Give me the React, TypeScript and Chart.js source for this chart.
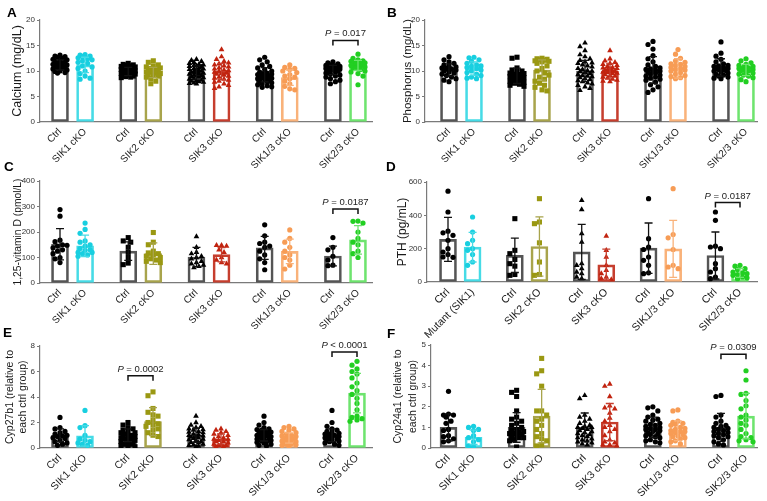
import React, { useEffect, useRef } from "react";
import { Chart, registerables } from "chart.js";

Chart.register(...registerables);

const FONT = "'Liberation Sans', Arial, Helvetica, sans-serif";

// ---------- shared categories ----------
const LABELS = ["Ctrl", "SIK1 cKO", "Ctrl", "SIK2 cKO", "Ctrl", "SIK3 cKO", "Ctrl", "SIK1/3 cKO", "Ctrl", "SIK2/3 cKO"];
const LABELS_D = ["Ctrl", "Mutant (SIK1)", "Ctrl", "SIK2 cKO", "Ctrl", "SIK3 cKO", "Ctrl", "SIK1/3 cKO", "Ctrl", "SIK2/3 cKO"];

// ---------- Panel A: Calcium (mg/dL) ----------
const A_MEANS = [11.2, 11.2, 9.9, 9.7, 9.7, 9.9, 9.25, 8.7, 10.2, 11.1];
const A_SDS = [1.0, 1.5, 0.8, 1.0, 1.3, 1.6, 1.4, 1.5, 0.9, 1.0];
const A_CTRL1 = [13.1, 12.9, 12.8, 12.7, 12.5, 12.3, 12.2, 12.0, 11.9, 11.8, 11.6, 11.5, 11.3, 11.2, 11.0, 10.9, 10.8, 10.7, 10.5, 10.4, 10.2, 10.0, 9.9, 9.7, 9.6];
const A_SIK1 = [13.2, 13.1, 12.9, 12.8, 12.6, 12.4, 12.2, 12.0, 11.7, 11.5, 11.0, 10.8, 10.5, 10.0, 9.5, 9.0, 8.6, 8.4];
const A_CTRL2 = [11.5, 11.3, 11.2, 11.1, 11.0, 10.9, 10.8, 10.7, 10.6, 10.5, 10.4, 10.3, 10.2, 10.1, 10.0, 9.9, 9.8, 9.7, 9.6, 9.5, 9.4, 9.3, 9.2, 9.1, 9.0, 8.9, 8.8, 8.7, 10.4, 9.9];
const A_SIK2 = [12.0, 11.7, 11.2, 11.0, 10.8, 10.6, 10.5, 10.4, 10.3, 10.2, 10.0, 9.9, 9.8, 9.6, 9.5, 9.3, 9.1, 9.0, 8.8, 8.5, 8.0, 7.5];
const A_CTRL3 = [12.3, 12.1, 11.9, 11.7, 11.5, 11.3, 11.2, 11.0, 10.9, 10.8, 10.6, 10.5, 10.4, 10.2, 10.1, 10.0, 9.9, 9.8, 9.6, 9.5, 9.4, 9.2, 9.1, 9.0, 8.8, 8.7, 8.5, 8.4, 8.2, 8.1, 8.0, 7.9, 7.8, 7.7, 7.6, 7.5, 10.3, 9.7, 8.9, 11.1];
const A_SIK3 = [14.2, 12.8, 12.3, 11.9, 11.6, 11.4, 11.2, 11.0, 10.8, 10.6, 10.4, 10.2, 10.0, 9.8, 9.6, 9.4, 9.2, 9.0, 8.8, 8.6, 8.4, 8.2, 8.0, 7.8, 7.5, 7.2, 6.9, 6.6, 10.1, 9.5];
const A_CTRL4 = [12.7, 12.2, 11.8, 11.2, 10.9, 10.6, 10.3, 10.0, 9.8, 9.6, 9.4, 9.3, 9.1, 9.0, 8.9, 8.7, 8.6, 8.5, 8.3, 8.2, 8.0, 7.9, 7.7, 7.5, 7.3, 7.1, 6.9, 6.8, 9.5, 8.8];
const A_SIK13 = [11.2, 10.7, 10.5, 10.3, 10.0, 9.7, 9.3, 9.0, 8.8, 8.5, 8.0, 7.5, 7.0, 6.5, 6.3];
const A_CTRL5 = [11.8, 11.6, 11.4, 11.2, 11.1, 11.0, 10.9, 10.8, 10.7, 10.6, 10.5, 10.4, 10.3, 10.2, 10.1, 10.0, 9.8, 9.6, 9.4, 9.2, 9.0, 8.8, 8.5, 8.2, 7.9, 7.5, 10.5, 10.8];
const A_SIK23 = [13.3, 12.5, 12.2, 12.0, 11.9, 11.8, 11.7, 11.6, 11.5, 11.4, 11.3, 11.2, 11.1, 11.0, 10.9, 10.8, 10.6, 10.5, 10.3, 10.0, 9.8, 9.5, 9.0, 7.3];

// ---------- Panel B: Phosphorus (mg/dL) ----------
const B_MEANS = [10.2, 10.5, 9.05, 10.2, 10.0, 10.0, 10.2, 10.5, 10.7, 10.2];
const B_SDS = [1.2, 1.3, 1.5, 2.0, 2.1, 1.4, 2.6, 1.9, 1.7, 1.1];
const B_CTRL1 = [12.8, 12.2, 11.8, 11.5, 11.2, 11.0, 10.8, 10.6, 10.4, 10.2, 10.0, 9.8, 9.6, 9.4, 9.1, 8.8, 8.5, 8.2, 7.9, 10.5];
const B_SIK1 = [12.7, 12.6, 12.2, 11.9, 11.5, 11.2, 11.0, 10.7, 10.5, 10.2, 10.0, 9.7, 9.4, 9.1, 8.8, 8.6, 8.5, 10.9];
const B_CTRL2 = [12.7, 12.5, 10.6, 10.2, 10.0, 9.8, 9.6, 9.4, 9.3, 9.2, 9.1, 9.0, 8.9, 8.8, 8.7, 8.6, 8.5, 8.4, 8.3, 8.2, 8.0, 7.8, 7.6, 7.4, 7.2, 7.0, 8.9, 9.5];
const B_SIK2 = [12.5, 12.4, 12.3, 12.2, 12.1, 12.0, 11.8, 11.5, 11.0, 10.5, 10.0, 9.6, 9.2, 8.8, 8.4, 8.0, 7.6, 7.2, 6.8, 6.3, 6.1, 11.9];
const B_CTRL3 = [15.5, 14.8, 14.0, 13.2, 12.8, 12.4, 12.1, 11.8, 11.5, 11.2, 11.0, 10.8, 10.5, 10.3, 10.1, 9.9, 9.7, 9.5, 9.3, 9.1, 8.9, 8.7, 8.5, 8.3, 8.1, 7.9, 7.7, 7.5, 7.2, 6.9, 6.6, 6.2, 10.0, 9.0, 11.6];
const B_SIK3 = [14.0, 12.4, 12.0, 11.7, 11.5, 11.3, 11.1, 10.9, 10.7, 10.6, 10.5, 10.4, 10.2, 10.1, 10.0, 9.9, 9.8, 9.6, 9.5, 9.3, 9.1, 9.0, 8.8, 8.6, 8.4, 8.2, 8.0, 7.9, 10.3, 9.7];
const B_CTRL4 = [15.8, 15.2, 14.3, 13.0, 12.4, 11.8, 11.2, 10.9, 10.6, 10.4, 10.3, 10.2, 10.0, 9.8, 9.6, 9.4, 9.2, 9.0, 8.8, 8.6, 8.4, 8.2, 7.8, 7.3, 6.9, 6.3, 5.8, 10.1];
const B_SIK13 = [14.2, 13.3, 12.5, 12.0, 11.7, 11.4, 11.1, 10.9, 10.7, 10.5, 10.3, 10.0, 9.7, 9.4, 9.1, 8.9, 8.7, 8.5, 10.2, 11.3];
const B_CTRL5 = [15.7, 13.5, 12.9, 12.3, 11.8, 11.4, 11.1, 10.9, 10.7, 10.5, 10.4, 10.3, 10.2, 10.1, 10.0, 9.8, 9.6, 9.4, 9.2, 9.0, 8.8, 8.6, 8.5, 10.6, 11.0];
const B_SIK23 = [12.4, 12.0, 11.6, 11.3, 11.1, 10.9, 10.7, 10.5, 10.4, 10.3, 10.2, 10.1, 10.0, 9.8, 9.6, 9.4, 9.2, 9.0, 8.7, 8.3, 7.9, 10.6];

// ---------- Panel C: 1,25-vitamin D (pmol/L) ----------
const C_MEANS = [152, 146, 125, 115, 102, 111, 138, 124, 106, 169];
const C_SDS = [61, 42, 36, 42, 38, 28, 45, 48, 39, 56];
const C_CTRL1 = [288, 262, 168, 162, 150, 148, 145, 138, 130, 125, 115, 100, 95, 80];
const C_SIK1 = [235, 210, 195, 165, 160, 150, 145, 135, 130, 128, 120, 120, 115, 110, 105];
const C_CTRL2 = [178, 165, 160, 140, 120, 100, 78, 72];
const C_SIK2 = [198, 160, 150, 125, 118, 115, 110, 105, 100, 95, 90, 85, 80];
const C_CTRL3 = [182, 140, 120, 115, 105, 100, 95, 85, 80, 75, 70, 65, 60];
const C_SIK3 = [148, 148, 145, 130, 120, 100, 90, 80, 75];
const C_CTRL4 = [228, 185, 160, 155, 145, 140, 125, 110, 95, 80, 52];
const C_SIK13 = [208, 175, 160, 140, 125, 110, 100, 90, 70, 55];
const C_CTRL5 = [178, 140, 130, 105, 90, 70, 68];
const C_SIK23 = [243, 242, 235, 200, 175, 160, 150, 125, 115, 100];

// ---------- Panel D: PTH (pg/mL) ----------
const D_MEANS = [256, 209, 160, 213, 181, 103, 203, 199, 159, 54];
const D_SDS = [132, 89, 103, 178, 165, 94, 151, 171, 141, 26];
const D_CTRL1 = [545, 420, 305, 295, 280, 250, 200, 180, 165, 150, 148];
const D_SIK1 = [390, 300, 250, 230, 200, 190, 165, 120, 100];
const D_CTRL2 = [380, 190, 170, 135, 110, 95, 45, 40];
const D_SIK2 = [500, 360, 350, 235, 120, 45, 40];
const D_CTRL3 = [490, 435, 290, 240, 110, 100, 80, 60, 50, 30, 20];
const D_SIK3 = [275, 190, 150, 100, 70, 50, 30, 20, 15];
const D_CTRL4 = [500, 260, 210, 195, 150, 130, 100, 55, 50];
const D_SIK13 = [560, 285, 265, 195, 100, 90, 80];
const D_CTRL5 = [420, 370, 215, 210, 200, 110, 80, 60, 30, 20];
const D_SIK23 = [100, 95, 80, 75, 60, 55, 50, 45, 40, 30, 25, 20];

// ---------- Panel E: Cyp27b1 ----------
const E_MEANS = [1.0, 0.95, 1.0, 2.07, 1.0, 0.7, 1.0, 0.78, 1.0, 4.31];
const E_SDS = [0.5, 0.8, 0.5, 1.1, 0.55, 0.4, 0.45, 0.4, 0.5, 1.55];
const E_CTRL1 = [2.4, 1.6, 1.5, 1.3, 1.2, 1.1, 1.0, 0.95, 0.9, 0.8, 0.75, 0.6, 0.5, 0.4, 0.3, 0.2];
const E_SIK1 = [2.95, 1.75, 1.6, 1.0, 0.7, 0.6, 0.5, 0.4, 0.3, 0.2];
const E_CTRL2 = [2.0, 1.8, 1.6, 1.5, 1.4, 1.3, 1.2, 1.2, 1.1, 1.0, 1.0, 0.9, 0.9, 0.8, 0.7, 0.7, 0.6, 0.5, 0.5, 0.4, 0.3, 0.3, 0.2, 0.1, 0.1];
const E_SIK2 = [4.4, 4.1, 3.1, 2.8, 2.6, 2.5, 2.2, 2.0, 1.9, 1.8, 1.7, 1.5, 1.4, 1.2, 1.0, 0.9];
const E_CTRL3 = [2.5, 2.0, 1.8, 1.7, 1.6, 1.5, 1.45, 1.4, 1.3, 1.25, 1.2, 1.1, 1.05, 1.0, 0.95, 0.9, 0.85, 0.8, 0.75, 0.7, 0.65, 0.6, 0.5, 0.45, 0.4, 0.3, 0.25, 0.2, 0.15, 0.1];
const E_SIK3 = [1.5, 1.4, 1.3, 1.2, 1.1, 1.0, 0.9, 0.8, 0.7, 0.7, 0.6, 0.5, 0.5, 0.4, 0.3, 0.3, 0.2, 0.2, 0.1, 0.1];
const E_CTRL4 = [2.5, 2.0, 1.8, 1.6, 1.5, 1.45, 1.4, 1.3, 1.25, 1.2, 1.15, 1.1, 1.05, 1.0, 0.95, 0.9, 0.9, 0.85, 0.8, 0.75, 0.7, 0.65, 0.6, 0.55, 0.5, 0.45, 0.4, 0.3, 0.2, 0.15];
const E_SIK13 = [1.7, 1.6, 1.5, 1.4, 1.3, 1.2, 1.1, 1.0, 0.95, 0.9, 0.85, 0.8, 0.75, 0.7, 0.65, 0.6, 0.55, 0.5, 0.45, 0.4, 0.35, 0.3, 0.25, 0.2, 0.1];
const E_CTRL5 = [2.95, 2.0, 1.7, 1.5, 1.4, 1.3, 1.2, 1.15, 1.1, 1.05, 1.0, 0.95, 0.9, 0.85, 0.8, 0.75, 0.7, 0.65, 0.6, 0.55, 0.5, 0.4, 0.3, 0.2];
const E_SIK23 = [6.8, 6.5, 6.2, 6.0, 5.8, 5.5, 5.1, 4.8, 4.5, 4.2, 3.9, 3.5, 3.0, 2.5, 2.4, 2.3, 2.2, 2.1];

// ---------- Panel F: Cyp24a1 ----------
const F_MEANS = [1.0, 0.52, 1.0, 1.55, 1.0, 1.26, 1.0, 0.84, 1.0, 1.55];
const F_SDS = [0.66, 0.35, 0.72, 1.3, 0.7, 0.9, 0.5, 0.48, 0.68, 1.1];
const F_CTRL1 = [2.75, 1.65, 1.6, 1.6, 1.5, 1.3, 1.2, 0.9, 0.85, 0.6, 0.55, 0.45, 0.35, 0.3];
const F_SIK1 = [1.05, 1.0, 0.9, 0.85, 0.6, 0.5, 0.4, 0.3, 0.1, 0.05];
const F_CTRL2 = [2.8, 2.7, 2.5, 1.8, 1.5, 1.4, 1.3, 1.2, 1.1, 1.0, 0.9, 0.85, 0.8, 0.75, 0.7, 0.7, 0.65, 0.6, 0.55, 0.5, 0.5, 0.4, 0.35, 0.05];
const F_SIK2 = [4.35, 3.75, 3.6, 3.0, 1.8, 1.8, 1.6, 1.4, 1.3, 1.1, 0.9, 0.7, 0.55, 0.45, 0.35, 0.15, 0.1];
const F_CTRL3 = [2.55, 2.4, 1.6, 1.5, 1.4, 1.3, 1.2, 1.1, 1.05, 1.0, 1.0, 0.95, 0.9, 0.85, 0.8, 0.75, 0.7, 0.65, 0.6, 0.55, 0.5, 0.45, 0.4, 0.35, 0.3, 0.25, 0.2, 0.15];
const F_SIK3 = [3.1, 3.0, 2.5, 2.05, 1.95, 1.9, 1.7, 1.45, 1.3, 1.1, 1.0, 0.9, 0.8, 0.6, 0.4, 0.3, 0.25, 0.15, 0.15, 0.1];
const F_CTRL4 = [2.0, 1.95, 1.8, 1.6, 1.5, 1.4, 1.35, 1.3, 1.2, 1.15, 1.1, 1.05, 1.0, 0.95, 0.9, 0.9, 0.85, 0.8, 0.75, 0.7, 0.65, 0.6, 0.55, 0.5, 0.4, 0.35, 0.3, 0.25];
const F_SIK13 = [1.85, 1.8, 1.3, 1.25, 1.2, 1.15, 1.1, 1.0, 0.95, 0.9, 0.85, 0.8, 0.8, 0.75, 0.7, 0.65, 0.6, 0.55, 0.5, 0.45, 0.35, 0.3, 0.2];
const F_CTRL5 = [2.55, 2.5, 1.6, 1.5, 1.3, 1.2, 1.1, 1.05, 1.0, 0.95, 0.9, 0.85, 0.8, 0.75, 0.7, 0.65, 0.6, 0.55, 0.5, 0.4, 0.3, 0.2, 0.15];
const F_SIK23 = [3.75, 3.3, 2.65, 2.6, 2.3, 2.05, 1.9, 1.6, 1.5, 1.35, 1.2, 1.1, 0.9, 0.7, 0.55, 0.5, 0.4, 0.35, 0.3];

// ---------- styling ----------
const KO_POINT = ["#18cfe0", "#9a9812", "#c1230f", "#f79c55", "#22cf22"];
const KO_BAR = ["#46dbe6", "#a8a44c", "#c63e2e", "#f9b27a", "#6ee46e"];
const CTRL_BAR = "#555555";
const MARKERS = ["circle", "circle", "rect", "rect", "triangle", "triangle", "circle", "circle", "circle", "circle"];
const GROUP_STEP = 2.72;
const X_POS = LABELS.map((_, i) => Math.floor(i / 2) * GROUP_STEP + (i % 2));

type Bracket = { from: number; to: number; level: number; text: string };
type Spec = {
  id: string;
  letter: string;
  letterPos: [number, number];
  box: [number, number, number, number];
  plot: [number, number, number, number];
  centers: [number, number];
  yMax: number;
  yStep: number;
  title: string | string[];
  titleSize: number;
  titleLine: number;
  titleCenter: number;
  labels: string[];
  labelSize: number;
  means: number[];
  sds: number[];
  points: number[][];
  brackets: Bracket[];
};

const SPECS: Spec[] = [
  {
    id: "A", letter: "A", letterPos: [7, 6], box: [0, 0, 384, 168], plot: [40, 20, 372, 122], centers: [20, 14],
    yMax: 20, yStep: 5, title: "Calcium (mg/dL)", titleSize: 12.5, titleLine: 15, titleCenter: 17.5,
    labels: LABELS, labelSize: 10, means: A_MEANS, sds: A_SDS,
    points: [A_CTRL1, A_SIK1, A_CTRL2, A_SIK2, A_CTRL3, A_SIK3, A_CTRL4, A_SIK13, A_CTRL5, A_SIK23],
    brackets: [{ from: 8, to: 9, level: 16, text: " = 0.017" }],
  },
  {
    id: "B", letter: "B", letterPos: [387, 6], box: [384, 0, 383, 168], plot: [41, 20, 373, 122], centers: [24, 11],
    yMax: 20, yStep: 5, title: "Phosphorus (mg/dL)", titleSize: 11.5, titleLine: 14, titleCenter: 23.5,
    labels: LABELS, labelSize: 10, means: B_MEANS, sds: B_SDS,
    points: [B_CTRL1, B_SIK1, B_CTRL2, B_SIK2, B_CTRL3, B_SIK3, B_CTRL4, B_SIK13, B_CTRL5, B_SIK23],
    brackets: [],
  },
  {
    id: "C", letter: "C", letterPos: [4, 160], box: [0, 160, 384, 172], plot: [40, 21, 372, 123], centers: [20, 14],
    yMax: 400, yStep: 100, title: "1,25-vitamin D (pmol/L)", titleSize: 10.3, titleLine: 12.4, titleCenter: 18,
    labels: LABELS, labelSize: 10, means: C_MEANS, sds: C_SDS,
    points: [C_CTRL1, C_SIK1, C_CTRL2, C_SIK2, C_CTRL3, C_SIK3, C_CTRL4, C_SIK13, C_CTRL5, C_SIK23],
    brackets: [{ from: 8, to: 9, level: 290, text: " = 0.0187" }],
  },
  {
    id: "D", letter: "D", letterPos: [386, 160], box: [384, 160, 383, 178], plot: [43, 22, 373, 122], centers: [21, 17],
    yMax: 600, yStep: 200, title: "PTH (pg/mL)", titleSize: 12, titleLine: 14.4, titleCenter: 18.5,
    labels: LABELS_D, labelSize: 10.6, means: D_MEANS, sds: D_SDS,
    points: [D_CTRL1, D_SIK1, D_CTRL2, D_SIK2, D_CTRL3, D_SIK3, D_CTRL4, D_SIK13, D_CTRL5, D_SIK23],
    brackets: [{ from: 8, to: 9, level: 477, text: " = 0.0187" }],
  },
  {
    id: "E", letter: "E", letterPos: [3, 326], box: [0, 327, 384, 174], plot: [40, 19, 372, 121], centers: [20, 15],
    yMax: 8, yStep: 2, title: ["Cyp27b1 (relative to", "each ctrl group)"], titleSize: 10.5, titleLine: 12.7, titleCenter: 10.5,
    labels: LABELS, labelSize: 10.4, means: E_MEANS, sds: E_SDS,
    points: [E_CTRL1, E_SIK1, E_CTRL2, E_SIK2, E_CTRL3, E_SIK3, E_CTRL4, E_SIK13, E_CTRL5, E_SIK23],
    brackets: [
      { from: 2, to: 3, level: 5.67, text: " = 0.0002" },
      { from: 8, to: 9, level: 7.53, text: " < 0.0001" },
    ],
  },
  {
    id: "F", letter: "F", letterPos: [387, 327], box: [384, 327, 383, 174], plot: [47, 18, 373, 121], centers: [17.5, 11],
    yMax: 5, yStep: 1, title: ["Cyp24a1 (relative to", "each ctrl group)"], titleSize: 10.5, titleLine: 15, titleCenter: 13.8,
    labels: LABELS, labelSize: 10.5, means: F_MEANS, sds: F_SDS,
    points: [F_CTRL1, F_SIK1, F_CTRL2, F_SIK2, F_CTRL3, F_SIK3, F_CTRL4, F_SIK13, F_CTRL5, F_SIK23],
    brackets: [{ from: 8, to: 9, level: 4.55, text: " = 0.0309" }],
  },
];

// beeswarm-like horizontal spreading, in pixels (layout only)
function swarm(vals: number[], pxY: number, r: number): number[] {
  const out = new Array(vals.length).fill(0);
  const placed: { x: number; y: number }[] = [];
  const order = vals.map((_, i) => i).sort((a, b) => vals[b] - vals[a]);
  const cands = [0, -2.5, 2.5, -5, 5, -7, 7];
  const need = 2 * r * 0.95;
  for (const idx of order) {
    const y = vals[idx] * pxY;
    let best = 0;
    let bestScore = -1;
    for (const dx of cands) {
      let minD = Infinity;
      for (const p of placed) {
        const d = Math.hypot(p.x - dx, p.y - y);
        if (d < minD) minD = d;
      }
      if (minD >= need) { best = dx; bestScore = Infinity; break; }
      if (minD > bestScore) { bestScore = minD; best = dx; }
    }
    placed.push({ x: best, y });
    out[idx] = best;
  }
  return out;
}

function colorOf(i: number, bar: boolean) {
  if (i % 2 === 0) return bar ? CTRL_BAR : "#000000";
  return bar ? KO_BAR[i >> 1] : KO_POINT[i >> 1];
}

function Panel({ spec }: { spec: Spec }) {
  const ref = useRef<HTMLCanvasElement>(null);
  useEffect(() => {
    const canvas = ref.current;
    if (!canvas) return;
    const [, , W, H] = spec.box;
    const [L, T, R, B] = spec.plot;
    const span = 4 * GROUP_STEP + 1;
    const unitPx = (R - L - spec.centers[0] - spec.centers[1]) / span;
    const xMin = -spec.centers[0] / unitPx;
    const xMax = span + spec.centers[1] / unitPx;
    const pxY = (B - T) / spec.yMax;

    const scatterSets = spec.points.map((vals, i) => {
      const offs = swarm(vals, pxY, 2.6);
      const m = MARKERS[i];
      return {
        type: "scatter",
        data: vals.map((v, k) => ({ x: X_POS[i] + offs[k] / unitPx, y: v })),
        pointStyle: m,
        pointRadius: m === "rect" ? 3.6 : m === "triangle" ? 3.3 : 2.6,
        backgroundColor: colorOf(i, false),
        borderWidth: 0,
        order: 1,
      };
    });

    const barSet = {
      type: "bar",
      data: spec.means.map((m, i) => ({ x: X_POS[i], y: m })),
      backgroundColor: "rgba(255,255,255,0)",
      borderColor: spec.means.map((_, i) => colorOf(i, true)),
      borderWidth: 2,
      borderSkipped: false,
      barThickness: 17,
      order: 2,
    };

    const decor = {
      id: "decor" + spec.id,
      afterDatasetsDraw(chart: any) {
        const ctx = chart.ctx;
        const xs = chart.scales.x;
        const ys = chart.scales.y;
        ctx.save();
        spec.means.forEach((m, i) => {
          const cx = xs.getPixelForValue(X_POS[i]);
          const yTop = ys.getPixelForValue(m + spec.sds[i]);
          const yBot = ys.getPixelForValue(Math.max(0, m - spec.sds[i]));
          ctx.strokeStyle = i % 2 === 0 ? "#111111" : KO_BAR[i >> 1];
          ctx.lineWidth = 1.3;
          ctx.beginPath();
          ctx.moveTo(cx, yTop);
          ctx.lineTo(cx, yBot);
          ctx.moveTo(cx - 4, yTop);
          ctx.lineTo(cx + 4, yTop);
          ctx.moveTo(cx - 4, yBot);
          ctx.lineTo(cx + 4, yBot);
          ctx.stroke();
        });
        spec.brackets.forEach((b) => {
          const x1 = xs.getPixelForValue(X_POS[b.from]);
          const x2 = xs.getPixelForValue(X_POS[b.to]);
          const y = ys.getPixelForValue(b.level);
          ctx.strokeStyle = "#111111";
          ctx.lineWidth = 1.5;
          ctx.beginPath();
          ctx.moveTo(x1, y + 5);
          ctx.lineTo(x1, y);
          ctx.lineTo(x2, y);
          ctx.lineTo(x2, y + 5);
          ctx.stroke();
          const fs = 9.5;
          ctx.font = `italic ${fs}px ${FONT}`;
          const wP = ctx.measureText("P").width;
          ctx.font = `${fs}px ${FONT}`;
          const wR = ctx.measureText(b.text).width;
          const start = (x1 + x2) / 2 - (wP + wR) / 2;
          ctx.fillStyle = "#222222";
          ctx.textBaseline = "alphabetic";
          ctx.textAlign = "left";
          ctx.font = `italic ${fs}px ${FONT}`;
          ctx.fillText("P", start, y - 4);
          ctx.font = `${fs}px ${FONT}`;
          ctx.fillText(b.text, start + wP, y - 4);
        });
        ctx.restore();
      },
    };

    const chart = new Chart(canvas, {
      type: "bar",
      data: { datasets: [barSet, ...scatterSets] as any },
      options: {
        responsive: false,
        maintainAspectRatio: false,
        animation: false,
        layout: { padding: { top: T, right: W - R, left: 0, bottom: 0 } },
        plugins: { legend: { display: false }, tooltip: { enabled: false } },
        scales: {
          x: {
            type: "linear",
            min: xMin,
            max: xMax,
            offset: false,
            bounds: "data",
            grid: { display: false, drawTicks: false },
            border: { display: true, color: "#7a7a7a", width: 1.2 },
            afterBuildTicks: (s: any) => {
              s.ticks = X_POS.map((v) => ({ value: v }));
            },
            afterFit: (s: any) => {
              s.height = H - B;
            },
            ticks: {
              autoSkip: false,
              maxRotation: 45,
              minRotation: 45,
              padding: 4,
              color: "#1a1a1a",
              font: { family: FONT, size: spec.labelSize },
              callback: (_v: any, i: number) => spec.labels[i],
            },
          },
          y: {
            type: "linear",
            min: 0,
            max: spec.yMax,
            grid: { drawOnChartArea: false, drawTicks: true, tickLength: 3, color: "#7a7a7a", lineWidth: 1 },
            border: { display: true, color: "#7a7a7a", width: 1.2 },
            ticks: { stepSize: spec.yStep, padding: 2, color: "#333333", font: { family: FONT, size: 8 } },
            title: {
              display: true,
              text: spec.title,
              color: "#1a1a1a",
              font: { family: FONT, size: spec.titleSize, lineHeight: spec.titleLine / spec.titleSize },
              padding: { top: spec.titleCenter - spec.titleLine / 2, bottom: 0 },
            },
            afterFit: (s: any) => {
              s.width = L;
            },
          },
        },
      } as any,
      plugins: [decor],
    });
    return () => chart.destroy();
  }, [spec]);

  const [left, top, w, h] = spec.box;
  return (
    <>
      <canvas
        ref={ref}
        width={w}
        height={h}
        style={{ position: "absolute", left, top, width: w, height: h }}
      />
      <div
        style={{
          position: "absolute",
          left: spec.letterPos[0],
          top: spec.letterPos[1],
          font: `bold 13.5px ${FONT}`,
          lineHeight: "14px",
          color: "#000",
        }}
      >
        {spec.letter}
      </div>
    </>
  );
}

export default function App() {
  return (
    <div style={{ position: "absolute", left: 0, top: 0, width: 767, height: 501, background: "#fff", overflow: "hidden" }}>
      {SPECS.map((s) => (
        <Panel key={s.id} spec={s} />
      ))}
    </div>
  );
}
